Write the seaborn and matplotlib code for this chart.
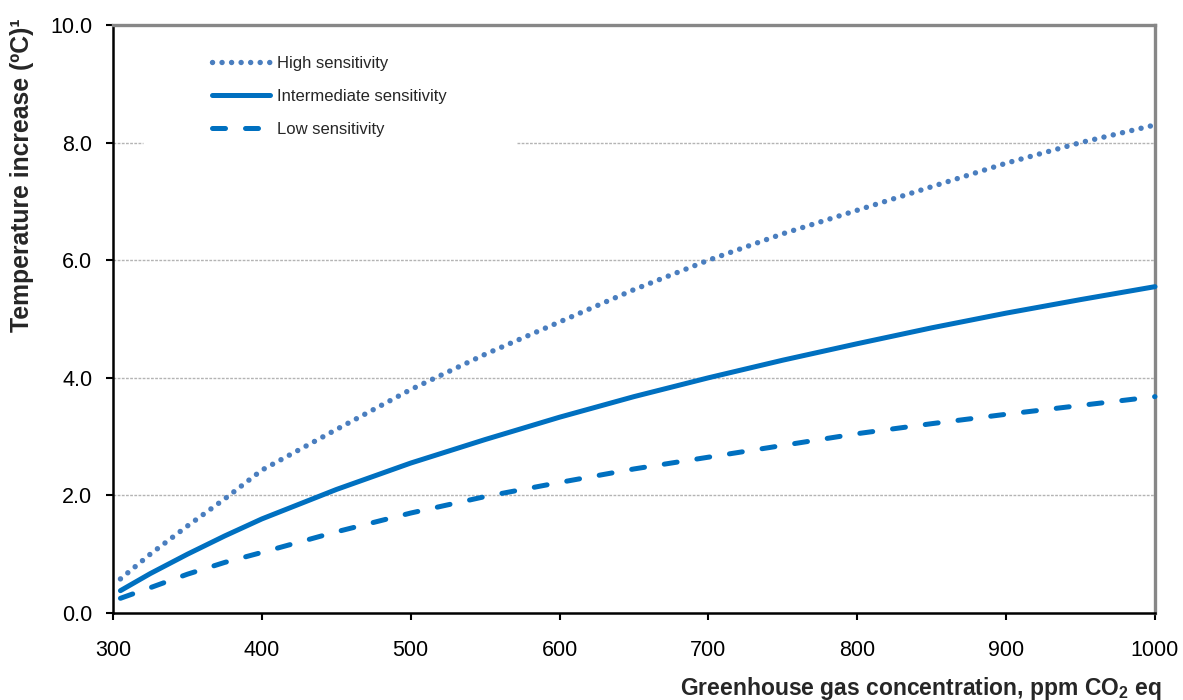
import matplotlib
matplotlib.use("Agg")
import matplotlib.pyplot as plt
import seaborn as sns
import pandas as pd
from matplotlib.lines import Line2D

concentration = [305, 325, 350, 375, 400, 450, 500, 550, 600, 650, 700, 750, 800, 850, 900, 950, 1000]
high_sens = [0.58, 1.00, 1.48, 1.94, 2.43, 3.12, 3.80, 4.40, 4.95, 5.50, 6.00, 6.45, 6.85, 7.25, 7.65, 8.00, 8.30]
mid_sens = [0.38, 0.67, 1.00, 1.31, 1.60, 2.10, 2.55, 2.95, 3.33, 3.68, 4.00, 4.30, 4.58, 4.85, 5.10, 5.33, 5.55]
low_sens = [0.25, 0.43, 0.66, 0.86, 1.03, 1.38, 1.70, 1.98, 2.22, 2.45, 2.65, 2.85, 3.05, 3.22, 3.38, 3.53, 3.68]
series_labels = ["High sensitivity", "Intermediate sensitivity", "Low sensitivity"]
y_ticks = [0, 2, 4, 6, 8, 10]
x_ticks = [300, 400, 500, 600, 700, 800, 900, 1000]

sns.set_theme(style="white")
plt.rcParams['font.family'] = ['Liberation Sans', 'DejaVu Sans']
plt.rcParams['mathtext.fontset'] = 'custom'
plt.rcParams['mathtext.rm'] = 'Liberation Sans'
plt.rcParams['mathtext.bf'] = 'Liberation Sans:bold'

fig = plt.figure(figsize=(11.83, 7.0), dpi=100)
ax = fig.add_axes([113/1183, 87/700, (1155-113)/1183, (613-25)/700])

colors = ["#4A7EBF", "#0070C0", "#0070C0"]
dash_patterns = [(0.01, 1.75), None, (2.6, 4.0)]
widths = [3.9, 3.6, 3.6]
for vals, lab, col, dp, w in zip([high_sens, mid_sens, low_sens], series_labels, colors, dash_patterns, widths):
    df = pd.DataFrame({"x": concentration, "y": vals})
    sns.lineplot(data=df, x="x", y="y", ax=ax, color=col, linewidth=w,
                 solid_capstyle="round", dash_capstyle="round", label=lab, legend=False)
    line = ax.lines[-1]
    if dp is not None:
        line.set_dashes(dp)
    line.set_clip_on(False)
    line.set_zorder(3)

ax.set_xlim(300, 1000)
ax.set_ylim(0, 10)
ax.set_xticks(x_ticks)
ax.set_yticks(y_ticks)
ax.set_xticklabels([str(v) for v in x_ticks], fontsize=15.5)
ax.set_yticklabels([f"{v:.1f}" for v in y_ticks], fontsize=15.5)
ax.tick_params(axis="both", which="major", direction="out", length=5, width=1.5, color="black",
               left=True, bottom=True, labelcolor="black")
ax.tick_params(axis="y", pad=10)
ax.tick_params(axis="x", pad=14.5)

# dotted horizontal gridlines; the legend area interrupts the 8.0 line
grid_color = "#B4B4B4"
for y in [2, 4, 6]:
    ax.axhline(y, color=grid_color, linestyle=(0, (2, 1)), linewidth=1.0, zorder=0)
ax.axhline(8, xmin=0, xmax=(143-113)/1042, color=grid_color, linestyle=(0, (2, 1)), linewidth=1.0, zorder=0)
ax.axhline(8, xmin=(517-113)/1042, xmax=1, color=grid_color, linestyle=(0, (2, 1)), linewidth=1.0, zorder=0)

for side in ["left", "bottom"]:
    ax.spines[side].set_color("black")
    ax.spines[side].set_linewidth(1.8)
for side in ["top", "right"]:
    ax.spines[side].set_color("#878787")
    ax.spines[side].set_linewidth(2.4)
ax.grid(False)

ax.set_xlabel("")
ax.set_ylabel("")
fig.text(1162/1183, 1 - 688/700, r"Greenhouse gas concentration, ppm CO$_\mathbf{2}$ eq",
         ha="right", va="center", fontsize=16.5, fontweight="bold")
fig.text(22/1183, 1 - 175/700, "Temperature increase (ºC)¹", rotation=90, ha="center", va="center",
         fontsize=17.8, fontweight="bold")

handles = []
for lab, col, dp, w in zip(series_labels, colors, dash_patterns, widths):
    h = Line2D([], [], color=col, linewidth=w, solid_capstyle="round", dash_capstyle="round")
    if dp is not None:
        h.set_dashes(dp)
    handles.append(h)
leg = ax.legend(handles, series_labels, loc="upper left", bbox_to_anchor=((212-113)/1042, (613-56)/588),
                frameon=False, fontsize=12, handlelength=3.5, handletextpad=0.4, labelspacing=1.08,
                borderpad=0, borderaxespad=0)
leg.set_zorder(5)

fig.savefig("out.png", dpi=100, facecolor="white")
